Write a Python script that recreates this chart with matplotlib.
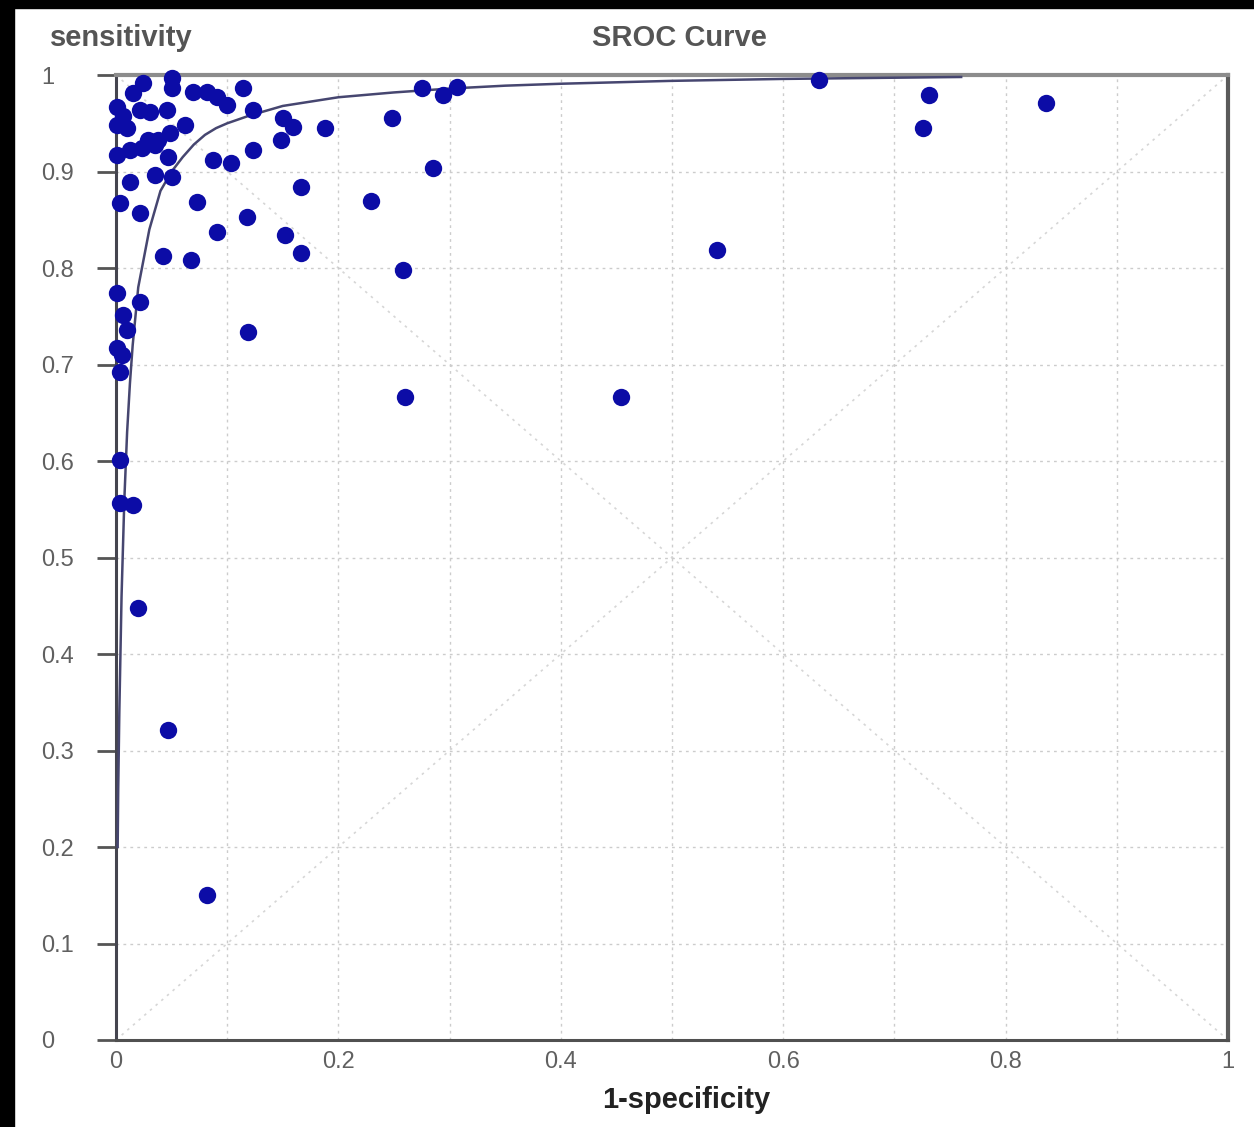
import matplotlib
matplotlib.use('Agg')
import matplotlib.pyplot as plt
from matplotlib.patches import Rectangle

plt.rcParams['font.family'] = ['Liberation Sans', 'DejaVu Sans']

# study points (1-specificity, sensitivity)
fpr = [0.024, 0.050, 0.050, 0.015, 0.069, 0.082, 0.091, 0.100, 0.114, 0.123,
       0.001, 0.006, 0.022, 0.031, 0.046, 0.001, 0.010, 0.062, 0.049, 0.029,
       0.038, 0.001, 0.013, 0.023, 0.035, 0.047, 0.087, 0.103, 0.123, 0.148,
       0.035, 0.050, 0.013, 0.004, 0.022, 0.073, 0.091, 0.118, 0.152, 0.042,
       0.067, 0.001, 0.022, 0.150, 0.159, 0.188, 0.166, 0.248, 0.275, 0.294,
       0.307, 0.285, 0.229, 0.258, 0.260, 0.454, 0.540, 0.632, 0.731, 0.726,
       0.836, 0.166, 0.119, 0.006, 0.010, 0.001, 0.005, 0.004, 0.004, 0.004,
       0.015, 0.020, 0.047, 0.082]
sens = [0.992, 0.997, 0.987, 0.981, 0.982, 0.982, 0.977, 0.969, 0.987, 0.964,
        0.967, 0.958, 0.964, 0.962, 0.964, 0.948, 0.945, 0.948, 0.940, 0.933,
        0.933, 0.917, 0.922, 0.924, 0.927, 0.915, 0.912, 0.909, 0.922, 0.933,
        0.896, 0.894, 0.889, 0.867, 0.857, 0.868, 0.837, 0.853, 0.834, 0.813,
        0.808, 0.774, 0.765, 0.955, 0.946, 0.945, 0.884, 0.955, 0.987, 0.979,
        0.988, 0.904, 0.870, 0.798, 0.666, 0.666, 0.819, 0.995, 0.979, 0.945,
        0.971, 0.816, 0.734, 0.751, 0.736, 0.717, 0.710, 0.692, 0.601, 0.556,
        0.554, 0.448, 0.321, 0.150]

# SROC curve
curve_fpr = [0.0015, 0.002, 0.003, 0.004, 0.005, 0.0075, 0.01, 0.0125, 0.015, 0.02,
             0.025, 0.03, 0.04, 0.05, 0.06, 0.07, 0.08, 0.09, 0.10, 0.12,
             0.15, 0.20, 0.25, 0.30, 0.35, 0.40, 0.50, 0.60, 0.76]
curve_sens = [0.20, 0.26, 0.34, 0.40, 0.46, 0.56, 0.63, 0.68, 0.72, 0.78,
              0.81, 0.84, 0.88, 0.90, 0.915, 0.928, 0.938, 0.945, 0.95, 0.958,
              0.968, 0.977, 0.982, 0.986, 0.989, 0.991, 0.994, 0.996, 0.998]

diag = [0, 1]
anti = [1, 0]

xticks = [0, 0.2, 0.4, 0.6, 0.8, 1]
xlabels = ['0', '0.2', '0.4', '0.6', '0.8', '1']
yticks = [0, 0.1, 0.2, 0.3, 0.4, 0.5, 0.6, 0.7, 0.8, 0.9, 1]
ylabels = ['0', '0.1', '0.2', '0.3', '0.4', '0.5', '0.6', '0.7', '0.8', '0.9', '1']

fig = plt.figure(figsize=(12.54, 11.27), dpi=100)
fig.patch.set_facecolor('white')
ax = fig.add_axes([0.0925, 0.0772, 0.8868, 0.8562])

# grid and diagonals
ax.set_xticks([i / 10 for i in range(11)], minor=True)
ax.grid(which='both', linestyle=(0, (2, 3)), color='#cccccc', linewidth=1.0, zorder=0)
ax.plot(diag, diag, linestyle=(0, (1.5, 3)), color='#d6d6d6', linewidth=1.2, zorder=1)
ax.plot(diag, anti, linestyle=(0, (1.5, 3)), color='#d6d6d6', linewidth=1.2, zorder=1)

# curve and points
ax.plot(curve_fpr, curve_sens, color='#464670', linewidth=1.8, zorder=3)
ax.plot(fpr, sens, 'o', color='#0c0ca6', markersize=12.5, markeredgewidth=0,
        clip_on=False, zorder=4)

ax.set_xlim(0, 1)
ax.set_ylim(0, 1)

ax.spines['top'].set_color('#8c8c8c')
ax.spines['top'].set_linewidth(3)
ax.spines['right'].set_color('#5a5a5a')
ax.spines['right'].set_linewidth(3)
ax.spines['left'].set_color('#45454f')
ax.spines['left'].set_linewidth(2.2)
ax.spines['bottom'].set_color('#505050')
ax.spines['bottom'].set_linewidth(2.2)

ax.set_xticks(xticks)
ax.set_xticklabels(xlabels)
ax.set_yticks(yticks)
ax.set_yticklabels(ylabels)
ax.tick_params(axis='x', which='both', length=0, pad=8, labelsize=17, labelcolor='#606060')
ax.tick_params(axis='y', length=14, width=2, color='#555555', pad=40,
               labelsize=17, labelcolor='#606060')
for t in ax.get_yticklabels():
    t.set_horizontalalignment('left')

# texts
fig.text(0.040, 0.966, 'sensitivity', fontsize=21, fontweight='bold', color='#555555',
         ha='left', va='center')
fig.text(0.542, 0.966, 'SROC Curve', fontsize=21, fontweight='bold', color='#555555',
         ha='center', va='center')
fig.text(0.547, 0.024, '1-specificity', fontsize=21, fontweight='bold', color='#222222',
         ha='center', va='center')

# black border at top and left
fig.patches.append(Rectangle((0, 0), 14 / 1254, 1, transform=fig.transFigure,
                             color='black', zorder=10))
fig.patches.append(Rectangle((0, 1 - 8 / 1127), 1, 8 / 1127, transform=fig.transFigure,
                             color='black', zorder=10))

fig.savefig('out.png', dpi=100)
